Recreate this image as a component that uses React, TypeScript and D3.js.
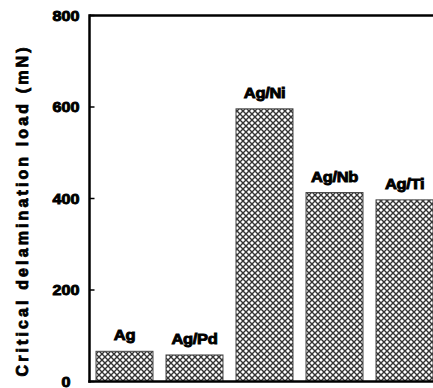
import React from "react";
import * as d3 from "d3";

const categories = ["Ag", "Ag/Pd", "Ag/Ni", "Ag/Nb", "Ag/Ti"];
const values = [66, 58, 596, 413, 397];
const yTicks = [0, 200, 400, 600, 800];
const yLabel = "Critical delamination load (mN)";

const W = 433;
const H = 388;
const left = 89.5;
const top = 15.5;
const bottom = 381.5;

export default function App() {
  const x = d3
    .scaleBand<string>()
    .domain(categories)
    .range([left, left + 350])
    .paddingInner(0.186)
    .paddingOuter(0.093);
  const y = d3.scaleLinear().domain([0, 800]).range([bottom, top]);
  const font = "'Liberation Sans', Arial, sans-serif";

  return (
    <svg
      width={W}
      height={H}
      style={{ position: "absolute", left: 0, top: 0, background: "#fff" }}
    >
      <defs>
        <pattern id="xh" patternUnits="userSpaceOnUse" width={6} height={6}>
          <rect width={6} height={6} fill="#fff" />
          <path
            d="M-1,-1 L7,7 M7,-1 L-1,7"
            stroke="#333"
            strokeWidth={1.4}
          />
        </pattern>
      </defs>

      {categories.map((c, i) => {
        const bx = x(c)!;
        const bw = x.bandwidth();
        const by = y(values[i]);
        return (
          <g key={c}>
            <rect
              x={bx}
              y={by}
              width={bw}
              height={bottom - by}
              fill="url(#xh)"
              stroke="#444"
              strokeWidth={1}
            />
            <text
              transform={`translate(${bx + bw / 2},${by - 11}) scale(1.1,1)`}
              textAnchor="middle"
              fontFamily={font}
              fontWeight="bold"
              fontSize={15}
              stroke="#000"
              strokeWidth={0.9}
              letterSpacing={-0.3}
              fill="#000"
            >
              {c}
            </text>
          </g>
        );
      })}

      {/* axes */}
      <line x1={left} x2={W} y1={top} y2={top} stroke="#000" strokeWidth={2.5} />
      <line x1={left} x2={left} y1={top - 1.2} y2={bottom + 1.2} stroke="#000" strokeWidth={2.5} />
      <line x1={left - 1.2} x2={W} y1={bottom} y2={bottom} stroke="#000" strokeWidth={2.5} />

      {yTicks.map((t) => (
        <g key={t}>
          <line x1={left} x2={left + 5} y1={y(t)} y2={y(t)} stroke="#000" strokeWidth={1.5} />
          <text
            transform={`translate(66,${y(t) + 5.3}) scale(1.15,1)`}
            textAnchor="middle"
            fontFamily={font}
            fontWeight="bold"
            fontSize={14}
            stroke="#000"
            strokeWidth={0.9}
            fill="#000"
          >
            {t}
          </text>
        </g>
      ))}

      <text
        transform={`translate(28,212) rotate(-90)`}
        textAnchor="middle"
        fontFamily={font}
        fontWeight="bold"
        fontSize={16}
        stroke="#000"
        strokeWidth={0.8}
        fill="#000"
        textLength={329}
        lengthAdjust="spacing"
      >
        {yLabel}
      </text>
    </svg>
  );
}
